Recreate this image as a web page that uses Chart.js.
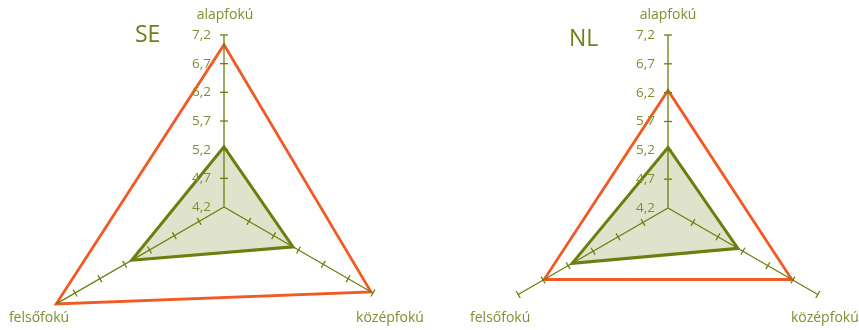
<!DOCTYPE html>
<html>
<head>
<meta charset="utf-8">
<script src="https://cdn.jsdelivr.net/npm/chart.js@4.4.1/dist/chart.umd.min.js"></script>
<style>
  html, body { margin: 0; padding: 0; background: #fff; overflow: hidden; }
  #wrap { position: relative; width: 859px; height: 330px; overflow: hidden; }
  #wrap canvas { position: absolute; top: 0; }
</style>
</head>
<body>
<div id="wrap">
  <canvas id="seChart" width="430" height="400" style="left:0"></canvas>
  <canvas id="nlChart" width="429" height="400" style="left:430px"></canvas>
</div>
<script>
// ---- data ----
const categories = ['alapfokú', 'középfokú', 'felsőfokú'];
const tickValues = [4.2, 4.7, 5.2, 5.7, 6.2, 6.7, 7.2];
const tickLabels = ['4,2', '4,7', '5,2', '5,7', '6,2', '6,7', '7,2'];

const seGreen  = [5.25, 5.59, 6.06];
const seOrange = [7.03, 7.16, 7.58];
const nlGreen  = [5.25, 5.60, 6.12];
const nlOrange = [6.24, 6.68, 6.68];

const OLIVE = '#6c7e0e';
const TEXT = '#7d8f32';
const FILL = '#dfe3cc';
const ORANGE = '#f15a24';
const FONT = '"Open Sans", "Noto Sans", sans-serif';

// axes, tick marks and texts drawn the Excel way (labels left of the axis)
const radarDecor = {
    id: 'radarDecor',
    beforeDatasetsDraw(chart, args, o) {
        const r = chart.scales.r;
        const ctx = chart.ctx;
        ctx.save();
        ctx.fillStyle = TEXT;
        ctx.font = '14px ' + FONT;
        ctx.textAlign = 'center';
        ctx.textBaseline = 'middle';
        categories.forEach((c, i) => {
            const p = r.getPointPositionForValue(i, r.max);
            const off = o.labelOffsets[i];
            ctx.fillText(c, p.x + off[0], p.y + off[1]);
        });
        const top = r.getPointPositionForValue(0, r.max);
        ctx.font = '23px ' + FONT;
        ctx.textAlign = 'left';
        ctx.textBaseline = 'alphabetic';
        ctx.fillStyle = '#6e8018';
        ctx.fillText(o.title, top.x + o.titleOffset[0], top.y + o.titleOffset[1]);
        ctx.restore();
    },
    afterDatasetsDraw(chart) {
        const r = chart.scales.r;
        const ctx = chart.ctx;
        ctx.save();
        ctx.fillStyle = TEXT;
        ctx.font = '13.5px ' + FONT;
        ctx.textAlign = 'right';
        ctx.textBaseline = 'middle';
        tickValues.forEach((v, i) => {
            const p = r.getPointPositionForValue(0, v);
            ctx.fillText(tickLabels[i], p.x - 13, p.y);
        });
        ctx.strokeStyle = OLIVE;
        ctx.lineWidth = 1.3;
        categories.forEach((c, i) => {
            // Excel runs the axis out to a point that lies past the max
            let end = r.max;
            chart.data.datasets.forEach(ds => { end = Math.max(end, ds.data[i]); });
            const a = r.getPointPositionForValue(i, r.min);
            const b = r.getPointPositionForValue(i, end);
            ctx.beginPath();
            ctx.moveTo(a.x, a.y);
            ctx.lineTo(b.x, b.y);
            ctx.stroke();
            const len = Math.hypot(b.x - a.x, b.y - a.y);
            const px = -(b.y - a.y) / len, py = (b.x - a.x) / len;
            tickValues.slice(1).forEach(v => {
                const p = r.getPointPositionForValue(i, v);
                ctx.beginPath();
                ctx.moveTo(p.x - px * 4, p.y - py * 4);
                ctx.lineTo(p.x + px * 4, p.y + py * 4);
                ctx.stroke();
            });
        });
        ctx.restore();
    }
};

function makeRadar(id, green, orange, padding, decor) {
    return new Chart(document.getElementById(id), {
        type: 'radar',
        data: {
            labels: categories,
            datasets: [
                { data: green, borderColor: OLIVE, backgroundColor: FILL, fill: true,
                  borderWidth: 3, pointRadius: 0, borderJoinStyle: 'miter' },
                { data: orange, borderColor: ORANGE, backgroundColor: 'transparent', fill: false,
                  borderWidth: 2.8, pointRadius: 0, borderJoinStyle: 'miter' }
            ]
        },
        options: {
            responsive: false,
            animation: false,
            layout: { padding: padding },
            plugins: {
                legend: { display: false },
                tooltip: { enabled: false },
                radarDecor: decor
            },
            scales: {
                r: {
                    min: 4.2,
                    max: 7.2,
                    grid: { display: false },
                    angleLines: { display: false },
                    ticks: { display: false },
                    pointLabels: { display: false }
                }
            }
        },
        plugins: [radarDecor]
    });
}

makeRadar('seChart', seGreen, seOrange,
    { left: 52, right: 34, top: 35, bottom: 21 },
    { title: 'SE', titleOffset: [-89, 7], labelOffsets: [[1, -20], [17, 25], [-36, 25]] });

makeRadar('nlChart', nlGreen, nlOrange,
    { left: 65, right: 18, top: 35, bottom: 19 },
    { title: 'NL', titleOffset: [-99, 11], labelOffsets: [[0, -20], [7, 24], [-18, 24]] });
</script>
</body>
</html>
